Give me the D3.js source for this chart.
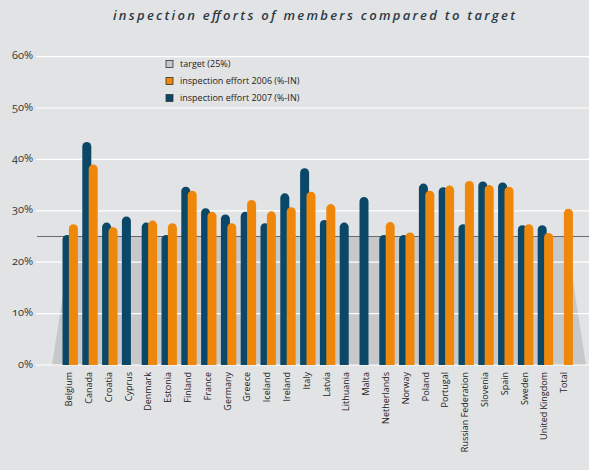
<!DOCTYPE html>
<html><head><meta charset="utf-8">
<script src="https://cdn.jsdelivr.net/npm/d3@7/dist/d3.min.js"></script>
<style>
html,body{margin:0;padding:0;background:#e2e3e5;}
svg{display:block;font-family:"Open Sans","Lato",sans-serif;}
</style></head>
<body>
<script>
const categories = ["Belgium","Canada","Croatia","Cyprus","Denmark","Estonia","Finland","France","Germany","Greece","Iceland","Ireland","Italy","Latvia","Lithuania","Malta","Netherlands","Norway","Poland","Portugal","Russian Federation","Slovenia","Spain","Sweden","United Kingdom","Total"];
const effort2007 = [25.3,43.4,27.7,28.9,27.7,25.3,34.7,30.5,29.3,29.8,27.6,33.4,38.3,28.2,27.7,32.7,25.3,25.3,35.3,34.6,27.4,35.7,35.5,27.2,27.2,null];
const effort2006 = [27.4,39.0,26.8,null,28.1,27.6,33.9,29.8,27.6,32.1,29.9,30.7,33.7,31.3,null,null,27.8,25.8,33.9,34.9,35.8,35.0,34.7,27.4,25.7,30.4];
const target = 25;
const yTicks = [0,10,20,30,40,50,60];
const legendLabels = ["target (25%)","inspection effort 2006 (%-IN)","inspection effort 2007 (%-IN)"];
const titleText = "inspection efforts of members compared to target";

const W = 589, H = 470;
const colBlue = "#0b4868", colOrange = "#ef870b", colTarget = "#c7c8ca", colBg = "#e2e3e5";

const svg = d3.select("body").append("svg").attr("width", W).attr("height", H);
svg.append("rect").attr("width", W).attr("height", H).attr("fill", colBg);

const y = d3.scaleLinear().domain([0, 60]).range([365, 56.6]);
const x = d3.scaleBand().domain(categories).range([60.3, 575.1]).padding(0);
const bw = 9, off = 3.2;

// title
svg.append("text").attr("x", 314).attr("y", 20).attr("text-anchor", "middle")
  .attr("font-style", "italic").attr("font-weight", 600).attr("font-size", 13)
  .attr("fill", "#2c3a46").attr("textLength", 402).attr("lengthAdjust", "spacing")
  .text(titleText);

// target trapezoid
const y0 = y(0), yt = y(target);
svg.append("path")
  .attr("d", `M52,${y0} L72,${yt} L566,${yt} L586,${y0} Z`)
  .attr("fill", colTarget);

// gridlines
svg.append("g").selectAll("line").data(yTicks).join("line")
  .attr("x1", 36).attr("x2", W).attr("y1", d => y(d)).attr("y2", d => y(d))
  .attr("stroke", "#ffffff").attr("stroke-width", 1.2);

// target line
svg.append("line").attr("x1", 37).attr("x2", W).attr("y1", yt).attr("y2", yt)
  .attr("stroke", "#6a6b6d").attr("stroke-width", 1.2);

// y labels
svg.append("g").selectAll("text").data(yTicks).join("text")
  .attr("x", 33).attr("y", d => y(d) + 2.5).attr("text-anchor", "end")
  .attr("font-size", 11).attr("fill", "#333")
  .style("font-variant-numeric", "oldstyle-nums")
  .text(d => d + "%");

function barPath(cx, v) {
  const r = bw / 2, xl = cx - r, top = y(v);
  return `M${xl},${y0} L${xl},${top + r} A${r},${r} 0 0 1 ${xl + bw},${top + r} L${xl + bw},${y0} Z`;
}

const idx = d3.range(categories.length);
const center = i => x(categories[i]) + x.bandwidth() / 2;

svg.append("g").selectAll("path").data(idx.filter(i => effort2007[i] != null)).join("path")
  .attr("d", i => barPath(center(i) - off, effort2007[i])).attr("fill", colBlue);
svg.append("g").selectAll("path").data(idx.filter(i => effort2006[i] != null)).join("path")
  .attr("d", i => barPath(center(i) + off, effort2006[i])).attr("fill", colOrange);

// x labels
svg.append("g").selectAll("text").data(categories).join("text")
  .attr("transform", d => `translate(${x(d) + x.bandwidth() / 2 + 2},372) rotate(-90)`)
  .attr("text-anchor", "end").attr("font-size", 9).attr("fill", "#222")
  .text(d => d);

// legend
const legCols = [colTarget, colOrange, colBlue];
const lg = svg.append("g");
legendLabels.forEach((t, i) => {
  const cy = 64 + i * 17;
  lg.append("rect").attr("x", 166).attr("y", cy - 3.5).attr("width", 7).attr("height", 7)
    .attr("fill", legCols[i]).attr("stroke", "#333").attr("stroke-width", 0.8);
  lg.append("text").attr("x", 180).attr("y", cy + 3).attr("font-size", 9).attr("fill", "#222").text(t);
});
</script>
</body></html>
